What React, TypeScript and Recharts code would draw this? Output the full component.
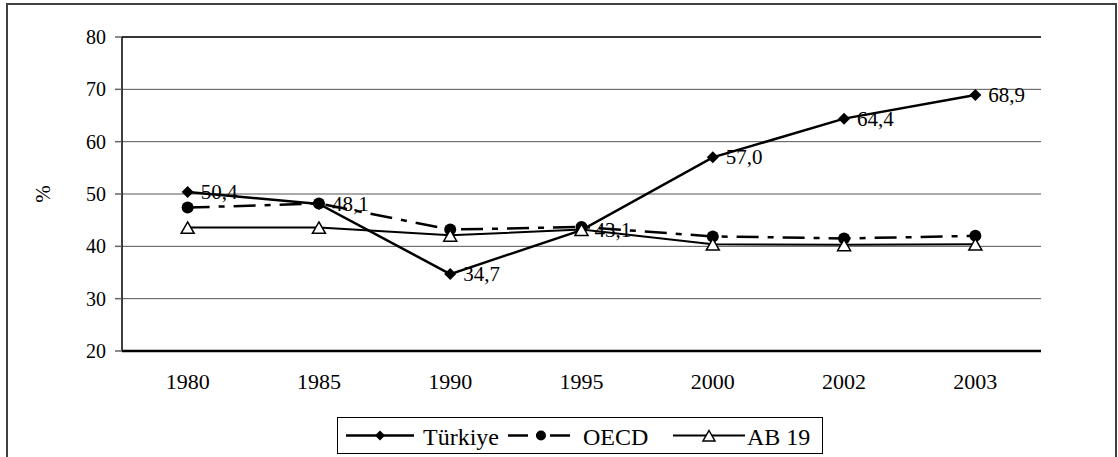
import React from 'react';
import {
	LineChart,
	Line,
	XAxis,
	YAxis,
	CartesianGrid,
	ReferenceLine,
	Legend,
} from 'recharts';

const years = ['1980', '1985', '1990', '1995', '2000', '2002', '2003'];
const turkiye = [50.4, 48.1, 34.7, 43.1, 57.0, 64.4, 68.9];
const oecd = [47.4, 48.2, 43.2, 43.7, 41.9, 41.5, 42.0];
const ab19 = [43.6, 43.6, 42.1, 43.2, 40.4, 40.3, 40.4];
const yTicks = [20, 30, 40, 50, 60, 70, 80];
const seriesNames = ['Türkiye', 'OECD', 'AB 19'];

const data = years.map((year, i) => ({
	x: i + 0.5,
	year,
	turkiye: turkiye[i],
	oecd: oecd[i],
	ab19: ab19[i],
}));
const boundaryTicks = [...years.map((_, i) => i), years.length];
const labelTicks = years.map((_, i) => i + 0.5);

const FONT = "'Liberation Serif', 'DejaVu Serif', serif";
const OECD_DASH = '22 9 6 9';

const fmt = (v: number) => v.toFixed(1).replace('.', ',');

const diamondPath = (cx: number, cy: number, r: number) =>
	`M${cx},${cy - r} L${cx + r},${cy} L${cx},${cy + r} L${cx - r},${cy} Z`;
const trianglePath = (cx: number, cy: number, r: number) =>
	`M${cx},${cy - r} L${cx + r},${cy + r * 0.75} L${cx - r},${cy + r * 0.75} Z`;

const Diamond = (props: any) => {
	const { cx, cy, index } = props;
	if (cx == null || cy == null) return null;
	return <path key={`dia-${index}`} d={diamondPath(cx, cy, 6)} fill="#000" />;
};

const Circle = (props: any) => {
	const { cx, cy, index } = props;
	if (cx == null || cy == null) return null;
	return <circle key={`cir-${index}`} cx={cx} cy={cy} r={6} fill="#000" />;
};

const Triangle = (props: any) => {
	const { cx, cy, index } = props;
	if (cx == null || cy == null) return null;
	return (
		<path
			key={`tri-${index}`}
			d={trianglePath(cx, cy + 1, 6.5)}
			fill="#fff"
			stroke="#000"
			strokeWidth={1.5}
		/>
	);
};

const TurkiyeLabel = (props: any) => {
	const { x, y, value, index } = props;
	return (
		<text
			key={`lab-${index}`}
			x={x + 13}
			y={y}
			dominantBaseline="central"
			fontFamily={FONT}
			fontSize={21}
			fill="#000"
		>
			{fmt(value)}
		</text>
	);
};

// legend layout inside its box
const legendLayout = [
	{ iconX: 9, iconW: 68, textX: 86, marker: 'diamond', dash: undefined, width: 2.5 },
	{ iconX: 171, iconW: 66, textX: 246, marker: 'circle', dash: '20 8 6 8', width: 2.5 },
	{ iconX: 336, iconW: 72, textX: 410, marker: 'triangle', dash: undefined, width: 2 },
];

const LegendBox = () => (
	<svg width={486} height={37} style={{ display: 'block' }}>
		<rect x={0.5} y={0.5} width={485} height={36} fill="#fff" stroke="#000" />
		{legendLayout.map((it, i) => {
			const cy = 18.5;
			const cx = it.iconX + it.iconW / 2;
			let marker;
			if (it.marker === 'diamond') marker = <path d={diamondPath(cx, cy, 5)} fill="#000" />;
			else if (it.marker === 'circle') marker = <circle cx={cx} cy={cy} r={5} fill="#000" />;
			else
				marker = (
					<path d={trianglePath(cx, cy + 1, 6)} fill="#fff" stroke="#000" strokeWidth={1.5} />
				);
			return (
				<g key={seriesNames[i]}>
					<line
						x1={it.iconX}
						x2={it.iconX + it.iconW}
						y1={cy}
						y2={cy}
						stroke="#000"
						strokeWidth={it.width}
						strokeDasharray={it.dash}
					/>
					{marker}
					<text
						x={it.textX}
						y={cy + 1}
						dominantBaseline="central"
						fontFamily={FONT}
						fontSize={24}
						fill="#000"
					>
						{seriesNames[i]}
					</text>
				</g>
			);
		})}
	</svg>
);

const App: React.FC = () => {
	return (
		<div
			style={{
				position: 'absolute',
				left: 0,
				top: 0,
				width: 1118,
				height: 457,
				overflow: 'hidden',
				background: '#fff',
				fontFamily: FONT,
			}}
		>
			<div
				style={{
					position: 'absolute',
					left: 6,
					top: 3,
					width: 1111,
					height: 480,
					boxSizing: 'border-box',
					border: '2px solid #404040',
				}}
			/>
			<div style={{ position: 'absolute', left: 0, top: 0 }}>
				<LineChart
					width={1118}
					height={457}
					data={data}
					margin={{ top: 37, right: 77, left: 62, bottom: 58 }}
				>
					<CartesianGrid vertical={false} stroke="#555" strokeWidth={1} />
					<XAxis
						dataKey="x"
						type="number"
						domain={[0, years.length]}
						ticks={boundaryTicks}
						tick={false}
						tickSize={7}
						height={8}
						axisLine={{ stroke: '#000', strokeWidth: 2.5 }}
						tickLine={{ stroke: '#333', strokeWidth: 1 }}
					/>
					<XAxis
						xAxisId="labels"
						dataKey="x"
						type="number"
						domain={[0, years.length]}
						ticks={labelTicks}
						tickFormatter={(v: number) => years[Math.floor(v)]}
						axisLine={false}
						tickLine={false}
						tickSize={0}
						tickMargin={14}
						height={40}
						tick={{ fontFamily: FONT, fontSize: 22, fill: '#000' }}
					/>
					<YAxis
						domain={[20, 80]}
						ticks={yTicks}
						width={60}
						interval={0}
						axisLine={{ stroke: '#000', strokeWidth: 1.5 }}
						tickLine={{ stroke: '#666', strokeWidth: 1.5 }}
						tickSize={7}
						tickMargin={9}
						tick={{ fontFamily: FONT, fontSize: 20, fill: '#000' }}
						label={{
							value: '%',
							angle: -90,
							position: 'center',
							dx: -49,
							style: { fontFamily: FONT, fontSize: 21, fill: '#000' },
						}}
					/>
					<YAxis
						yAxisId="right"
						orientation="right"
						domain={[20, 80]}
						width={0}
						tick={false}
						tickLine={false}
						axisLine={{ stroke: '#000', strokeWidth: 1.5 }}
					/>
					<ReferenceLine y={80} stroke="#111" strokeWidth={1.5} />
					<Line
						dataKey="turkiye"
						name={seriesNames[0]}
						stroke="#000"
						strokeWidth={2.5}
						dot={Diamond}
						activeDot={false}
						label={TurkiyeLabel}
						isAnimationActive={false}
					/>
					<Line
						dataKey="oecd"
						name={seriesNames[1]}
						stroke="#000"
						strokeWidth={2.5}
						strokeDasharray={OECD_DASH}
						dot={Circle}
						activeDot={false}
						isAnimationActive={false}
					/>
					<Line
						dataKey="ab19"
						name={seriesNames[2]}
						stroke="#000"
						strokeWidth={2}
						dot={Triangle}
						activeDot={false}
						isAnimationActive={false}
					/>
					<Legend
						layout="vertical"
						align="center"
						verticalAlign="middle"
						content={() => <LegendBox />}
						wrapperStyle={{ position: 'absolute', left: 337, top: 417, width: 486, height: 37 }}
					/>
				</LineChart>
			</div>
		</div>
	);
};

export default App;
